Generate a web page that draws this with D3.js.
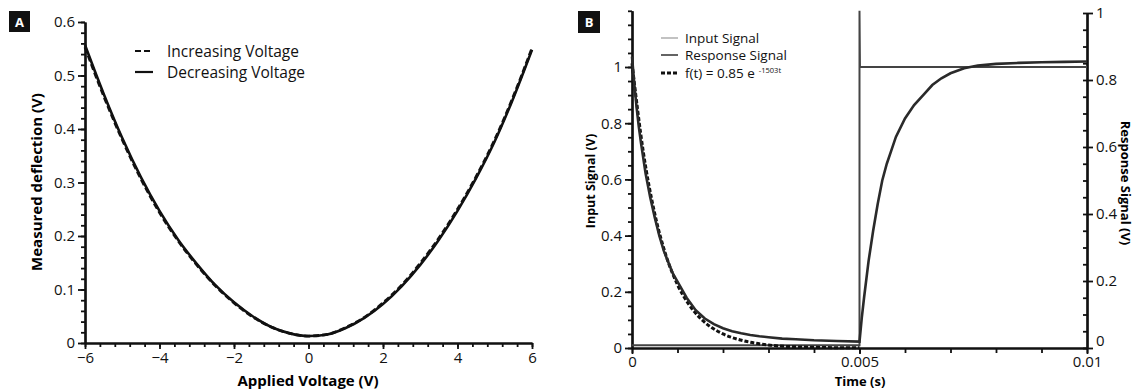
<!DOCTYPE html>
<html>
<head>
<meta charset="utf-8">
<script src="https://cdn.jsdelivr.net/npm/d3@7"></script>
<style>
  body { margin: 0; background: #fff; }
  svg { font-family: "Open Sans", "DejaVu Sans", sans-serif; }
  .axis path, .axis line { stroke: #111; }
  .axis text { font-size: 15px; fill: #111; font-family: "Open Sans", sans-serif; }
</style>
</head>
<body>
<div id="chart"></div>
<script>
// Panel A: deflection vs applied voltage
const voltage = [-6, -5.5, -5, -4.5, -4, -3.5, -3, -2.5, -2, -1.5, -1, -0.5, 0,
                 0.5, 1, 1.5, 2, 2.5, 3, 3.5, 4, 4.5, 5, 5.5, 6];
const decreasingV = [0.557, 0.466, 0.383, 0.310, 0.247, 0.193, 0.148, 0.108, 0.076, 0.050, 0.030, 0.018, 0.013,
                     0.016, 0.028, 0.047, 0.073, 0.106, 0.146, 0.193, 0.247, 0.308, 0.377, 0.458, 0.548];
const increasingV = [0.553, 0.462, 0.380, 0.307, 0.244, 0.191, 0.146, 0.107, 0.075, 0.049, 0.030, 0.018, 0.013,
                     0.016, 0.029, 0.048, 0.075, 0.108, 0.149, 0.196, 0.250, 0.311, 0.380, 0.461, 0.551];
const ticksA_x = [-6, -4, -2, 0, 2, 4, 6];
const ticksA_y = [0, 0.1, 0.2, 0.3, 0.4, 0.5, 0.6];

// Panel B: input step and response
const inputT = [0, 0.005, 0.005, 0.00501, 0.01];
const inputV = [0.01, 0.01, 1.2, 1.0, 1.0];
const responseT = [0, 0.00005, 0.0001, 0.00015, 0.0002, 0.0003, 0.0004, 0.0005, 0.0006, 0.0007, 0.0008, 0.0009,
                   0.001, 0.0012, 0.0014, 0.0016, 0.0018, 0.002, 0.0022, 0.0024, 0.0026, 0.0028, 0.003, 0.0033,
                   0.0036, 0.004, 0.0045, 0.005,
                   0.00505, 0.0051, 0.0052, 0.0053, 0.0054, 0.0055, 0.0056, 0.0057, 0.0058, 0.006, 0.0062,
                   0.0064, 0.0066, 0.0068, 0.007, 0.0073, 0.0076, 0.008, 0.0085, 0.009, 0.0095, 0.01];
const responseV = [0.87, 0.79, 0.72, 0.66, 0.61, 0.52, 0.45, 0.39, 0.335, 0.29, 0.255, 0.222,
                   0.198, 0.150, 0.113, 0.088, 0.071, 0.059, 0.050, 0.044, 0.039, 0.035, 0.032, 0.028,
                   0.026, 0.023, 0.021, 0.019,
                   0.09, 0.15, 0.26, 0.35, 0.43, 0.50, 0.55, 0.59, 0.63, 0.685, 0.725,
                   0.755, 0.785, 0.805, 0.82, 0.835, 0.843, 0.848, 0.851, 0.853, 0.854, 0.855];
const fitT = [0, 0.00025, 0.0005, 0.00075, 0.001, 0.00125, 0.0015, 0.00175, 0.002, 0.0025, 0.003, 0.0035, 0.004, 0.005];
const fitV = [0.85, 0.584, 0.401, 0.275, 0.189, 0.130, 0.089, 0.061, 0.042, 0.020, 0.009, 0.004, 0.002, 0.0005];
const ticksB_yl = [0, 0.2, 0.4, 0.6, 0.8, 1];
const ticksB_yr = [0, 0.2, 0.4, 0.6, 0.8, 1];
const ticksB_xlabel = [0, 0.005, 0.01];

const W = 1135, H = 392;
const svg = d3.select('#chart').append('svg').attr('width', W).attr('height', H);
svg.append('rect').attr('width', W).attr('height', H).attr('fill', '#fff');

const fmtA = d => d === 0 ? '0' : d3.format('.1f')(d);
const fmtB = d => String(+d.toFixed(3));

function styleAxis(g) {
    g.attr('class', 'axis');
    g.select('.domain').attr('stroke-width', 2.2);
    g.selectAll('.tick line').attr('stroke-width', 1.8);
    return g;
}

// ---------- Panel A ----------
const xA = d3.scaleLinear().domain([-6, 6]).range([85, 532]);
const yA = d3.scaleLinear().domain([0, 0.6]).range([343, 22]);

svg.append('g').attr('transform', 'translate(0,343)')
    .call(d3.axisBottom(xA).tickValues(d3.range(-6, 6.01, 0.4)).tickSize(4).tickFormat('').tickSizeOuter(0))
    .call(styleAxis);
svg.append('g').attr('transform', 'translate(0,343)')
    .call(d3.axisBottom(xA).tickValues(ticksA_x).tickSize(6).tickPadding(3).tickFormat(d3.format('d')).tickSizeOuter(0))
    .call(styleAxis);
svg.append('g').attr('transform', 'translate(85,0)')
    .call(d3.axisLeft(yA).tickValues(d3.range(0, 0.601, 0.02)).tickSize(4).tickFormat('').tickSizeOuter(0))
    .call(styleAxis);
svg.append('g').attr('transform', 'translate(85,0)')
    .call(d3.axisLeft(yA).tickValues(ticksA_y).tickSize(7).tickPadding(3).tickFormat(fmtA).tickSizeOuter(0))
    .call(styleAxis);

const lineA = d3.line().x(d => xA(d[0])).y(d => yA(d[1])).curve(d3.curveMonotoneX);
svg.append('path').datum(voltage.map((v, i) => [v, decreasingV[i]]))
    .attr('d', lineA).attr('fill', 'none').attr('stroke', '#111').attr('stroke-width', 2.6);
svg.append('path').datum(voltage.map((v, i) => [v, increasingV[i]]))
    .attr('d', lineA).attr('fill', 'none').attr('stroke', '#111').attr('stroke-width', 2.8)
    .attr('stroke-dasharray', '6,3');

svg.append('text').attr('x', 308).attr('y', 386).attr('text-anchor', 'middle')
    .attr('font-size', 15).attr('font-weight', 'bold').text('Applied Voltage (V)');
svg.append('text').attr('transform', 'translate(42,182) rotate(-90)').attr('text-anchor', 'middle')
    .attr('font-size', 15).attr('font-weight', 'bold').text('Measured deflection (V)');

// legend A
const legA = [{ label: 'Increasing Voltage', dash: '6,3', y: 51 }, { label: 'Decreasing Voltage', dash: null, y: 72 }];
legA.forEach(d => {
    svg.append('line').attr('x1', 135).attr('x2', 153).attr('y1', d.y).attr('y2', d.y)
        .attr('stroke', '#111').attr('stroke-width', 2.2).attr('stroke-dasharray', d.dash);
    svg.append('text').attr('x', 167).attr('y', d.y + 5.5).attr('font-size', 15.5).attr('fill', '#111').text(d.label);
});

// panel box A
svg.append('rect').attr('x', 9).attr('y', 11).attr('width', 21).attr('height', 21).attr('fill', '#111');
svg.append('text').attr('x', 19.5).attr('y', 26.5).attr('text-anchor', 'middle').attr('fill', '#fff')
    .attr('font-size', 13).attr('font-weight', 'bold').text('A');

// ---------- Panel B ----------
const xB = d3.scaleLinear().domain([0, 0.01]).range([632, 1087]);
const yBl = d3.scaleLinear().domain([0, 1.2]).range([348, 10.8]);
const yBr = d3.scaleLinear().domain([0, 1]).range([348, 13]);

svg.append('g').attr('transform', 'translate(0,348)')
    .call(d3.axisBottom(xB).tickValues(d3.range(0, 0.01001, 0.001)).tickSize(5).tickFormat('').tickSizeOuter(0))
    .call(styleAxis);
svg.append('g').attr('transform', 'translate(0,348)')
    .call(d3.axisBottom(xB).tickValues(ticksB_xlabel).tickSize(6).tickPadding(2).tickFormat(fmtB).tickSizeOuter(0))
    .call(styleAxis);
svg.append('g').attr('transform', 'translate(632,0)')
    .call(d3.axisLeft(yBl).tickValues(d3.range(0, 1.201, 0.05)).tickSize(4).tickFormat('').tickSizeOuter(0))
    .call(styleAxis);
svg.append('g').attr('transform', 'translate(632,0)')
    .call(d3.axisLeft(yBl).tickValues(ticksB_yl).tickSize(7).tickPadding(3).tickFormat(fmtB).tickSizeOuter(0))
    .call(styleAxis);
svg.append('g').attr('transform', 'translate(1087,0)')
    .call(d3.axisRight(yBr).tickValues(d3.range(0, 1.001, 0.05)).tickSize(-4).tickFormat('').tickSizeOuter(0))
    .call(styleAxis);
const rightAxis = svg.append('g').attr('transform', 'translate(1087,0)')
    .call(d3.axisRight(yBr).tickValues(ticksB_yr).tickSize(6).tickPadding(3).tickFormat(fmtB).tickSizeOuter(0))
    .call(styleAxis);
rightAxis.selectAll('.tick text').filter(d => d === 0).attr('dy', '-0.15em');

const lineBl = d3.line().x(d => xB(d[0])).y(d => yBl(d[1]));
const lineBr = d3.line().x(d => xB(d[0])).y(d => yBr(d[1]));

svg.append('path').datum(inputT.map((t, i) => [t, inputV[i]]))
    .attr('d', lineBl).attr('fill', 'none').attr('stroke', '#444').attr('stroke-width', 2);
svg.append('path').datum(fitT.map((t, i) => [t, fitV[i]]))
    .attr('d', d3.line().x(d => xB(d[0])).y(d => yBr(d[1])).curve(d3.curveMonotoneX))
    .attr('fill', 'none').attr('stroke', '#111').attr('stroke-width', 3).attr('stroke-dasharray', '4,2');
svg.append('path').datum(responseT.map((t, i) => [t, responseV[i]]))
    .attr('d', lineBr).attr('fill', 'none').attr('stroke', '#2a2a2a').attr('stroke-width', 2.6);

svg.append('text').attr('x', 860).attr('y', 386).attr('text-anchor', 'middle')
    .attr('font-size', 13).attr('font-weight', 'bold').text('Time (s)');
svg.append('text').attr('transform', 'translate(595,181) rotate(-90)').attr('text-anchor', 'middle')
    .attr('font-size', 12.5).attr('font-weight', 'bold').text('Input Signal (V)');
svg.append('text').attr('transform', 'translate(1121,183) rotate(90)').attr('text-anchor', 'middle')
    .attr('font-size', 13).attr('font-weight', 'bold').text('Response Signal (V)');

// legend B
const legB = [
    { label: 'Input Signal', color: '#999', w: 1.2, dash: null, y: 38 },
    { label: 'Response Signal', color: '#222', w: 1.4, dash: null, y: 55 },
    { label: 'f(t) = 0.85 e', color: '#111', w: 3, dash: '4,2', y: 73 }
];
legB.forEach((d, i) => {
    svg.append('line').attr('x1', 661).attr('x2', 678).attr('y1', d.y).attr('y2', d.y)
        .attr('stroke', d.color).attr('stroke-width', d.w).attr('stroke-dasharray', d.dash);
    const t = svg.append('text').attr('x', 685).attr('y', d.y + 4.5).attr('font-size', 13.5).attr('fill', '#111').text(d.label);
    if (i === 2) {
        t.append('tspan').attr('dx', 4).attr('dy', -5).attr('font-size', 7.5).text('-1503t');
    }
});

svg.append('rect').attr('x', 578).attr('y', 11).attr('width', 22).attr('height', 22).attr('fill', '#111');
svg.append('text').attr('x', 589).attr('y', 26.5).attr('text-anchor', 'middle').attr('fill', '#fff')
    .attr('font-size', 13).attr('font-weight', 'bold').text('B');
</script>
</body>
</html>
